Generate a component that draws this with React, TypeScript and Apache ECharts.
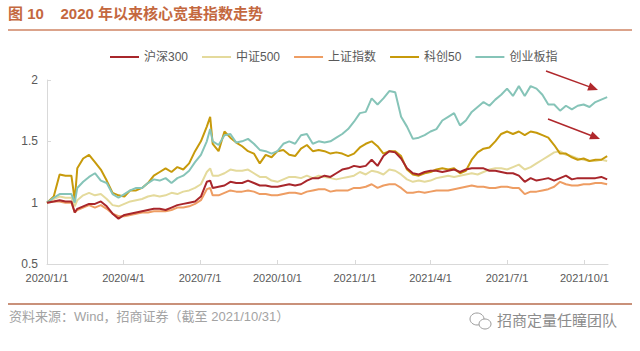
import React, { useEffect, useRef } from "react";
import * as echarts from "echarts";

const dates = [
  "2020-01-01", "2020-01-09", "2020-01-16", "2020-01-23", "2020-01-30", "2020-02-03",
  "2020-02-06", "2020-02-13", "2020-02-20", "2020-02-27", "2020-03-05", "2020-03-12",
  "2020-03-19", "2020-03-26", "2020-04-02", "2020-04-09", "2020-04-16", "2020-04-23",
  "2020-04-30", "2020-05-07", "2020-05-14", "2020-05-21", "2020-05-28", "2020-06-04",
  "2020-06-11", "2020-06-18", "2020-06-25", "2020-07-02", "2020-07-09", "2020-07-13",
  "2020-07-16", "2020-07-23", "2020-07-30", "2020-08-06", "2020-08-13", "2020-08-20",
  "2020-08-27", "2020-09-03", "2020-09-10", "2020-09-17", "2020-09-24", "2020-10-01",
  "2020-10-08", "2020-10-15", "2020-10-22", "2020-10-29", "2020-11-05", "2020-11-12",
  "2020-11-19", "2020-11-26", "2020-12-03", "2020-12-10", "2020-12-17", "2020-12-24",
  "2020-12-31", "2021-01-07", "2021-01-14", "2021-01-21", "2021-01-28", "2021-02-04",
  "2021-02-11", "2021-02-18", "2021-02-25", "2021-03-04", "2021-03-11", "2021-03-18",
  "2021-03-25", "2021-04-01", "2021-04-08", "2021-04-15", "2021-04-22", "2021-04-29",
  "2021-05-06", "2021-05-13", "2021-05-20", "2021-05-27", "2021-06-03", "2021-06-10",
  "2021-06-17", "2021-06-24", "2021-07-01", "2021-07-08", "2021-07-15", "2021-07-22",
  "2021-07-29", "2021-08-05", "2021-08-12", "2021-08-19", "2021-08-26", "2021-09-02",
  "2021-09-09", "2021-09-16", "2021-09-23", "2021-09-30", "2021-10-07", "2021-10-14",
  "2021-10-21", "2021-10-28",
];

const hs300 = [
  1.00, 1.01, 1.02, 1.01, 1.01, 0.92,
  0.95, 0.97, 0.99, 0.99, 1.01, 0.97, 0.91, 0.87, 0.90, 0.91, 0.92, 0.93, 0.94, 0.95, 0.95, 0.94, 0.96, 0.98, 0.99, 1.00, 1.01, 1.05, 1.17,
  1.18,
  1.12, 1.13, 1.14, 1.17, 1.16, 1.16, 1.18, 1.16, 1.14, 1.14, 1.13, 1.13, 1.14, 1.15, 1.14, 1.15, 1.18, 1.20, 1.20,
  1.22, 1.21, 1.24, 1.27, 1.28, 1.30, 1.29, 1.30, 1.35, 1.30, 1.38, 1.42, 1.41, 1.36, 1.28, 1.24, 1.23, 1.25, 1.26, 1.26,
  1.25, 1.26, 1.27, 1.25, 1.27, 1.28, 1.28, 1.28, 1.26, 1.26, 1.25, 1.24, 1.24, 1.22, 1.17, 1.20, 1.18, 1.19, 1.20, 1.18,
  1.20, 1.22, 1.19, 1.20, 1.20, 1.20, 1.20, 1.21, 1.19,
];

const zz500 = [
  1.00, 1.03, 1.05, 1.04, 1.04, 0.97,
  1.02, 1.06, 1.08, 1.06, 1.07, 1.03, 0.98, 0.97, 0.99, 1.01, 1.02, 1.03, 1.05, 1.06, 1.05, 1.06, 1.08, 1.07, 1.09, 1.10, 1.12, 1.15, 1.25,
  1.28,
  1.22, 1.22, 1.24, 1.27, 1.26, 1.26, 1.27, 1.24, 1.21, 1.21, 1.18, 1.17, 1.19, 1.21, 1.21, 1.20, 1.22, 1.20, 1.22,
  1.21, 1.20, 1.19, 1.20, 1.21, 1.22, 1.25, 1.23, 1.26, 1.25, 1.23, 1.27, 1.26, 1.23, 1.19, 1.17, 1.18, 1.17, 1.18, 1.20,
  1.21, 1.22, 1.21, 1.22, 1.23, 1.24, 1.23, 1.25, 1.27, 1.28, 1.28, 1.27, 1.29, 1.31, 1.27, 1.29, 1.32, 1.35, 1.38, 1.41,
  1.42, 1.39, 1.38, 1.36, 1.35, 1.34, 1.34, 1.35, 1.34,
];

const szzs = [
  1.00, 1.01, 1.01, 1.00, 1.00, 0.92,
  0.94, 0.96, 0.98, 0.96, 0.98, 0.95, 0.91, 0.89, 0.89, 0.90, 0.91, 0.92, 0.92, 0.93, 0.93, 0.93, 0.94, 0.96, 0.96, 0.97, 0.99, 1.02, 1.11,
  1.12,
  1.06, 1.06, 1.08, 1.10, 1.09, 1.09, 1.10, 1.09, 1.07, 1.07, 1.06, 1.06, 1.07, 1.08, 1.08, 1.07, 1.09, 1.10, 1.11,
  1.11, 1.09, 1.10, 1.10, 1.10, 1.12, 1.12, 1.13, 1.15, 1.12, 1.14, 1.15, 1.15, 1.12, 1.08, 1.08, 1.09, 1.08, 1.09, 1.10,
  1.10, 1.10, 1.11, 1.12, 1.13, 1.14, 1.13, 1.13, 1.12, 1.12, 1.13, 1.13, 1.12, 1.12, 1.07, 1.09, 1.09, 1.10, 1.11, 1.13,
  1.17, 1.15, 1.14, 1.14, 1.15, 1.15, 1.16, 1.16, 1.15,
];

const kc50 = [
  1.00, 1.05, 1.23, 1.22, 1.22, 1.02,
  1.28, 1.36, 1.39, 1.33, 1.27, 1.18, 1.08, 1.06, 1.05, 1.10, 1.10, 1.12, 1.16, 1.22, 1.25, 1.28, 1.25, 1.29, 1.27, 1.32, 1.42, 1.50, 1.62,
  1.70,
  1.48, 1.42, 1.58, 1.53, 1.49, 1.46, 1.42, 1.40, 1.32, 1.39, 1.37, 1.42, 1.43, 1.39, 1.38, 1.44, 1.47, 1.42, 1.43,
  1.42, 1.40, 1.41, 1.40, 1.38, 1.40, 1.45, 1.48, 1.50, 1.46, 1.40, 1.42, 1.42, 1.38, 1.27, 1.23, 1.22, 1.24, 1.25, 1.27,
  1.28, 1.27, 1.28, 1.24, 1.26, 1.35, 1.41, 1.44, 1.45, 1.50, 1.56, 1.58, 1.56, 1.58, 1.55, 1.58, 1.57, 1.55, 1.53, 1.47,
  1.40, 1.40, 1.37, 1.35, 1.36, 1.34, 1.35, 1.35, 1.38,
];

const cybz = [
  1.00, 1.04, 1.07, 1.07, 1.07, 1.00,
  1.12, 1.17, 1.21, 1.24, 1.18, 1.16, 1.07, 1.04, 1.07, 1.10, 1.12, 1.12, 1.16, 1.19, 1.18, 1.20, 1.16, 1.20, 1.22, 1.26, 1.33, 1.39, 1.50,
  1.60,
  1.50, 1.47, 1.55, 1.56, 1.49, 1.50, 1.52, 1.48, 1.43, 1.42, 1.40, 1.42, 1.48, 1.50, 1.48, 1.55, 1.56, 1.48, 1.50,
  1.49, 1.50, 1.53, 1.56, 1.60, 1.66, 1.73, 1.74, 1.85, 1.80, 1.85, 1.91, 1.90, 1.70, 1.62, 1.52, 1.53, 1.55, 1.58, 1.60,
  1.67, 1.70, 1.73, 1.63, 1.67, 1.74, 1.78, 1.82, 1.79, 1.84, 1.88, 1.93, 1.87, 1.95, 1.87, 1.95, 1.93, 1.88, 1.80, 1.80,
  1.75, 1.79, 1.76, 1.79, 1.80, 1.78, 1.82, 1.84, 1.86,
];

const seriesNames = ["沪深300", "中证500", "上证指数", "科创50", "创业板指"];
const seriesValues = [hs300, zz500, szzs, kc50, cybz];
const seriesColors = ["#A8262B", "#E4DA9C", "#EE9D63", "#C79A0B", "#86C4B8"];

const xTickDates = [
  "2020-01-01", "2020-04-01", "2020-07-01", "2020-10-01",
  "2021-01-01", "2021-04-01", "2021-07-01", "2021-10-01",
];
const xMin = "2020-01-01";
const xMax = "2021-10-29";
const yMin = 0.5;
const yMax = 2;
const yStep = 0.5;

const titleText = "图 10    2020 年以来核心宽基指数走势";
const sourceText = "资料来源：Wind，招商证券（截至 2021/10/31）";
const brandText = "招商定量任瞳团队";

function toTs(s: string): number {
  const [y, m, d] = s.split("-").map(Number);
  return new Date(y, m - 1, d).getTime();
}

const FONT = "Arial, 'Liberation Sans', 'Noto Sans CJK SC', sans-serif";

export default function App() {
  const ref = useRef<HTMLDivElement>(null);

  useEffect(() => {
    if (!ref.current) return;
    const chart = echarts.init(ref.current, null, { renderer: "svg" });
    const ticks = xTickDates.map(toTs);
    const axisGray = "#D9D9D9";

    const option: any = {
      animation: false,
      backgroundColor: "#ffffff",
      textStyle: { fontFamily: FONT },
      grid: { left: 47, right: 32, top: 80, bottom: 87 },
      legend: {
        left: 105,
        top: 46,
        icon: "rect",
        itemWidth: 29,
        itemHeight: 2,
        itemGap: 14,
        data: seriesNames,
        textStyle: { color: "#595959", fontSize: 12, fontFamily: FONT },
      },
      xAxis: {
        type: "value",
        min: toTs(xMin),
        max: toTs(xMax),
        axisLine: { show: true, lineStyle: { color: axisGray, width: 1 } },
        axisTick: {
          show: true,
          inside: true,
          length: 4,
          customValues: ticks,
          lineStyle: { color: axisGray },
        },
        axisLabel: {
          customValues: ticks,
          color: "#595959",
          fontSize: 11,
          margin: 8,
          hideOverlap: false,
          formatter: (v: number) => {
            const d = new Date(v);
            return `${d.getFullYear()}/${d.getMonth() + 1}/${d.getDate()}`;
          },
        },
        splitLine: { show: false },
      },
      yAxis: {
        type: "value",
        min: yMin,
        max: yMax,
        interval: yStep,
        axisLine: { show: true, lineStyle: { color: axisGray, width: 1 } },
        axisTick: { show: true, inside: true, length: 4, lineStyle: { color: axisGray } },
        axisLabel: { color: "#595959", fontSize: 12, margin: 9 },
        splitLine: { show: false },
      },
      series: seriesNames.map((name, k) => ({
        name,
        type: "line",
        showSymbol: false,
        symbol: "none",
        data: dates.map((d, i) => [toTs(d), seriesValues[k][i]]),
        lineStyle: { width: 2, color: seriesColors[k] },
        itemStyle: { color: seriesColors[k] },
        z: k === 0 ? 3 : 2,
      })),
      graphic: [
        {
          type: "text",
          left: 8,
          top: 6,
          style: {
            text: titleText,
            fill: "#C4683F",
            fontSize: 15,
            fontWeight: "bold",
            fontFamily: FONT,
          },
        },
        {
          type: "line",
          shape: { x1: 8, y1: 30, x2: 632, y2: 30 },
          style: { stroke: "#CF8464", lineWidth: 1.5 },
        },
        {
          type: "line",
          shape: { x1: 8, y1: 304, x2: 632, y2: 304 },
          style: { stroke: "#C9917A", lineWidth: 2 },
        },
        {
          type: "text",
          left: 9,
          top: 310,
          style: {
            text: sourceText,
            fill: "#A3A3A3",
            fontSize: 13,
            fontFamily: FONT,
          },
        },
        {
          type: "ellipse",
          shape: { cx: 477, cy: 319, rx: 7, ry: 6 },
          style: { fill: "#ffffff", stroke: "#9A9A9A", lineWidth: 1 },
        },
        {
          type: "ellipse",
          shape: { cx: 485, cy: 324, rx: 6, ry: 5 },
          style: { fill: "#ffffff", stroke: "#9A9A9A", lineWidth: 1 },
        },
        {
          type: "text",
          left: 497,
          top: 313,
          style: {
            text: brandText,
            fill: "#8C8C8C",
            fontSize: 15,
            fontFamily: FONT,
          },
        },
        {
          type: "line",
          shape: { x1: 546, y1: 71, x2: 589, y2: 86.6 },
          style: { stroke: "#B0282C", lineWidth: 1.5 },
        },
        {
          type: "polygon",
          shape: { points: [[598, 90], [587.2, 90.6], [590.2, 82.6]] },
          style: { fill: "#B0282C" },
        },
        {
          type: "line",
          shape: { x1: 548, y1: 119, x2: 591, y2: 135.5 },
          style: { stroke: "#B0282C", lineWidth: 1.5 },
        },
        {
          type: "polygon",
          shape: { points: [[600, 139], [589.1, 139.3], [592.3, 131.5]] },
          style: { fill: "#B0282C" },
        },
      ],
    };

    chart.setOption(option);
    return () => chart.dispose();
  }, []);

  return (
    <div
      ref={ref}
      style={{
        position: "fixed",
        left: 0,
        top: 0,
        width: 640,
        height: 351,
        background: "#ffffff",
      }}
    />
  );
}
